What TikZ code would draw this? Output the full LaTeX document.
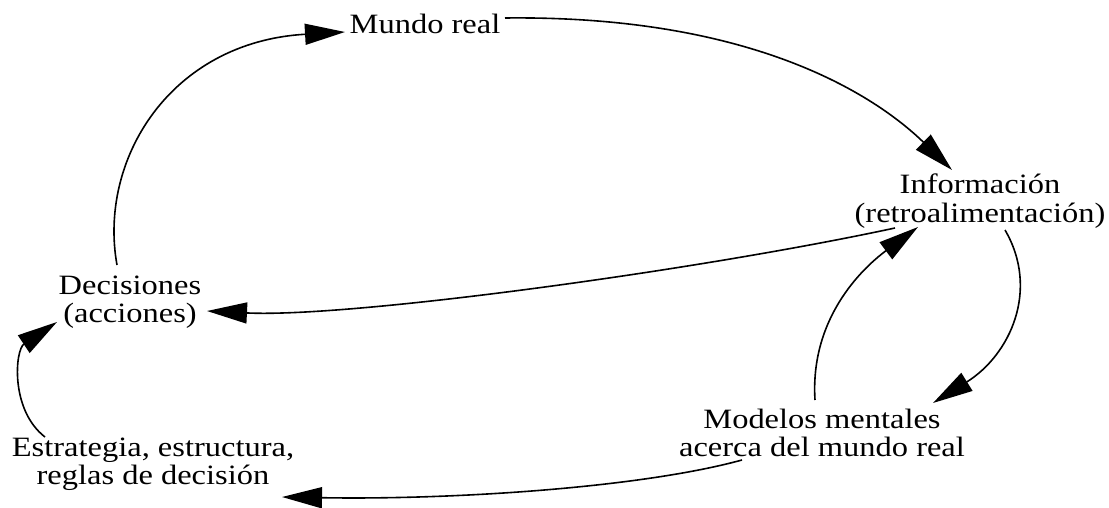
\documentclass[tikz,border=0pt]{standalone}
\usepackage{fontspec}
\setmainfont{Liberation Serif}[FakeStretch=1.16]
\usetikzlibrary{arrows.meta}
\begin{document}
\begin{tikzpicture}[x=1pt,y=-1pt,
  lbl/.style={align=center,inner sep=0pt,font=\fontsize{28}{28.5}\selectfont},
  conn/.style={line width=1.6pt,-{Triangle[length=40pt,width=21pt]}}]
\useasboundingbox (0,0) rectangle (1109,508);

% the five ideas of the loop
\node[lbl] (mundo) at (425,24) {Mundo real};
\node[lbl] (info) at (980,201) {Información\\(retroalimentación)};
\node[lbl] (dec) at (130,302) {Decisiones\\(acciones)};
\node[lbl] (model) at (822,433) {Modelos mentales\\acerca del mundo real};
\node[lbl] (estr) at (153,464) {Estrategia, estructura,\\reglas de decisión};

% decisions act on the world
\draw[conn] ([shift={(-13,-37)}]dec.center) .. controls (98,160) and (170,42) .. ([shift={(-80,8)}]mundo.center);
% the world feeds back information
\draw[conn] ([shift={(80,-6)}]mundo.center) .. controls (760,15) and (880,100) .. ([shift={(-28,-31)}]info.center);
% information informs decisions
\draw[conn] ([shift={(-85,27)}]info.center) .. controls (700,270) and (350,318) .. ([shift={(77,9)}]dec.center);
% information shapes mental models
\draw[conn] ([shift={(25,29)}]info.center) .. controls (1040,290) and (1010,355) .. ([shift={(111,-30)}]model.center);
% mental models filter information
\draw[conn] ([shift={(-7,-33)}]model.center) .. controls (810,320) and (860,270) .. ([shift={(-62,26)}]info.center);
% mental models shape strategy and rules
\draw[conn] ([shift={(-80,27)}]model.center) .. controls (640,488) and (450,500) .. ([shift={(129,33)}]estr.center);
% strategy and rules drive decisions
\draw[conn] ([shift={(-108,-27)}]estr.center) .. controls (10,410) and (15,350) .. ([shift={(-73,20)}]dec.center);
\end{tikzpicture}
\end{document}
